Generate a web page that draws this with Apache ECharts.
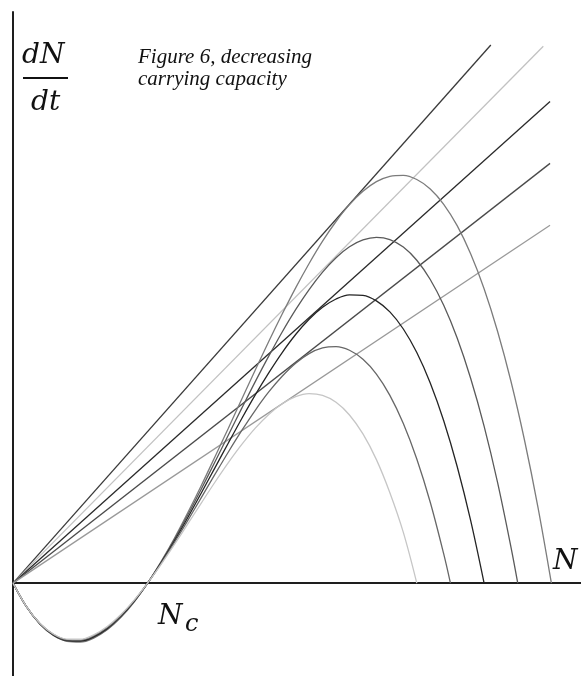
<!DOCTYPE html>
<html>
<head>
<meta charset="utf-8">
<script src="https://cdn.jsdelivr.net/npm/echarts@6/dist/echarts.min.js"></script>
<style>
  html, body { margin: 0; padding: 0; background: #fff; }
  #chart { width: 581px; height: 676px; }
</style>
</head>
<body>
<div id="chart"></div>
<script>
// Population N along the horizontal axis, sampled once per unit.
const nGrid = [0,1,2,3,4,5,6,7,8,9,10,11,12,13,14,15,16,17,18,19,20,
               21,22,23,24,25,26,27,28,29,30,31,32,33,34,35,36,37,38,39,40];

// Carrying capacities, from the largest to the smallest.
const capacities = [40, 37.5, 35, 32.5, 30];

// Growth rate dN/dt for each carrying capacity, read at nGrid points.
const growthK40 = [0,-1.76,-3.04,-3.89,-4.32,-4.38,-4.08,-3.47,-2.56,-1.40,0,
  1.60,3.36,5.27,7.28,9.38,11.52,13.69,15.84,17.96,20.00,
  21.95,23.76,25.42,26.88,28.13,29.12,29.84,30.24,30.31,30.00,
  29.30,28.16,26.57,24.48,21.88,18.72,14.99,10.64,5.66,0];
const growthK37 = [0,-1.75,-3.03,-3.86,-4.29,-4.33,-4.03,-3.42,-2.52,-1.37,0,
  1.55,3.26,5.10,7.02,9.00,11.01,13.01,14.98,16.87,18.67,
  20.33,21.82,23.12,24.19,25.00,25.51,25.70,25.54,24.98,24.00,
  22.57,20.65,18.22,15.23,11.67,7.49,2.66];
const growthK35 = [0,-1.75,-3.02,-3.84,-4.25,-4.29,-3.98,-3.36,-2.47,-1.34,0,
  1.51,3.15,4.90,6.72,8.57,10.42,12.24,13.99,15.63,17.14,
  18.48,19.61,20.50,21.12,21.43,21.39,20.98,20.16,18.89,17.14,
  14.88,12.07,8.67,4.66,0];
const growthK32 = [0,-1.74,-3.00,-3.81,-4.21,-4.23,-3.91,-3.30,-2.41,-1.30,0,
  1.46,3.03,4.68,6.38,8.08,9.75,11.35,12.85,14.21,15.38,
  16.35,17.06,17.48,17.58,17.31,16.64,15.54,13.96,11.87,9.23,
  6.01,2.17];
const growthK30 = [0,-1.74,-2.99,-3.78,-4.16,-4.17,-3.84,-3.22,-2.35,-1.26,0,
  1.39,2.88,4.42,5.97,7.50,8.96,10.31,11.52,12.54,13.33,
  13.86,14.08,13.95,13.44,12.50,11.09,9.18,6.72,3.77,0];
const growthSets = [growthK40, growthK37, growthK35, growthK32, growthK30];

// Straight lines through the origin: end point [N, dN/dt] of each.
const lineEnds = [[35.5, 40.0], [39.4, 39.9], [39.9, 35.8], [39.9, 31.2], [39.9, 26.6]];

// Axis extents.
const nMax = 42.2;
const rateMin = -6.9;
const rateMax = 42.45;

const lineColors = ['#3a3a3a', '#c2c2c2', '#2a2a2a', '#4a4a4a', '#999999'];
const curveColors = ['#7c7c7c', '#5a5a5a', '#242424', '#676767', '#c6c6c6'];

const series = [];
lineEnds.forEach(function (end, i) {
  series.push({
    type: 'line',
    data: [[0, 0], end],
    symbol: 'none',
    silent: true,
    lineStyle: { color: lineColors[i], width: 1.3 },
    z: 2
  });
});
growthSets.forEach(function (vals, i) {
  const pts = vals.map(function (v, j) { return [nGrid[j], v]; });
  const k = capacities[i];
  if (pts[pts.length - 1][0] !== k) pts.push([k, 0]);
  series.push({
    type: 'line',
    data: pts,
    symbol: 'none',
    smooth: 0.35,
    silent: true,
    lineStyle: { color: curveColors[i], width: 1.3 },
    z: 3
  });
});

const mathFont = 'italic 28px "DejaVu Serif"';
const noteFont = 'italic 21px "Liberation Serif"';

const chart = echarts.init(document.getElementById('chart'), null, { renderer: 'canvas' });
chart.setOption({
  backgroundColor: '#ffffff',
  animation: false,
  grid: { left: 13, right: 0, top: 12, bottom: 0, containLabel: false },
  xAxis: {
    type: 'value', min: 0, max: nMax,
    axisLine: { show: true, onZero: true, lineStyle: { color: '#1e1e1e', width: 2 } },
    axisTick: { show: false }, axisLabel: { show: false }, splitLine: { show: false }
  },
  yAxis: {
    type: 'value', min: rateMin, max: rateMax,
    axisLine: { show: true, onZero: true, lineStyle: { color: '#1e1e1e', width: 2 } },
    axisTick: { show: false }, axisLabel: { show: false }, splitLine: { show: false }
  },
  series: series,
  graphic: [
    { type: 'text', left: 22, top: 42, style: { text: 'dN', font: mathFont, fill: '#111' } },
    { type: 'line', shape: { x1: 23, y1: 78, x2: 68, y2: 78 }, style: { stroke: '#111', lineWidth: 2 } },
    { type: 'text', left: 31, top: 89, style: { text: 'dt', font: mathFont, fill: '#111' } },
    { type: 'text', left: 138, top: 47, style: { text: 'Figure 6, decreasing', font: noteFont, fill: '#111' } },
    { type: 'text', left: 138, top: 69, style: { text: 'carrying capacity', font: noteFont, fill: '#111' } },
    { type: 'text', left: 553, top: 548, style: { text: 'N', font: mathFont, fill: '#111' } },
    { type: 'text', left: 158, top: 603, style: { text: 'N', font: mathFont, fill: '#111' } },
    { type: 'text', left: 185, top: 613, style: { text: 'c', font: 'italic 24px "DejaVu Serif"', fill: '#111' } }
  ]
});
</script>
</body>
</html>
